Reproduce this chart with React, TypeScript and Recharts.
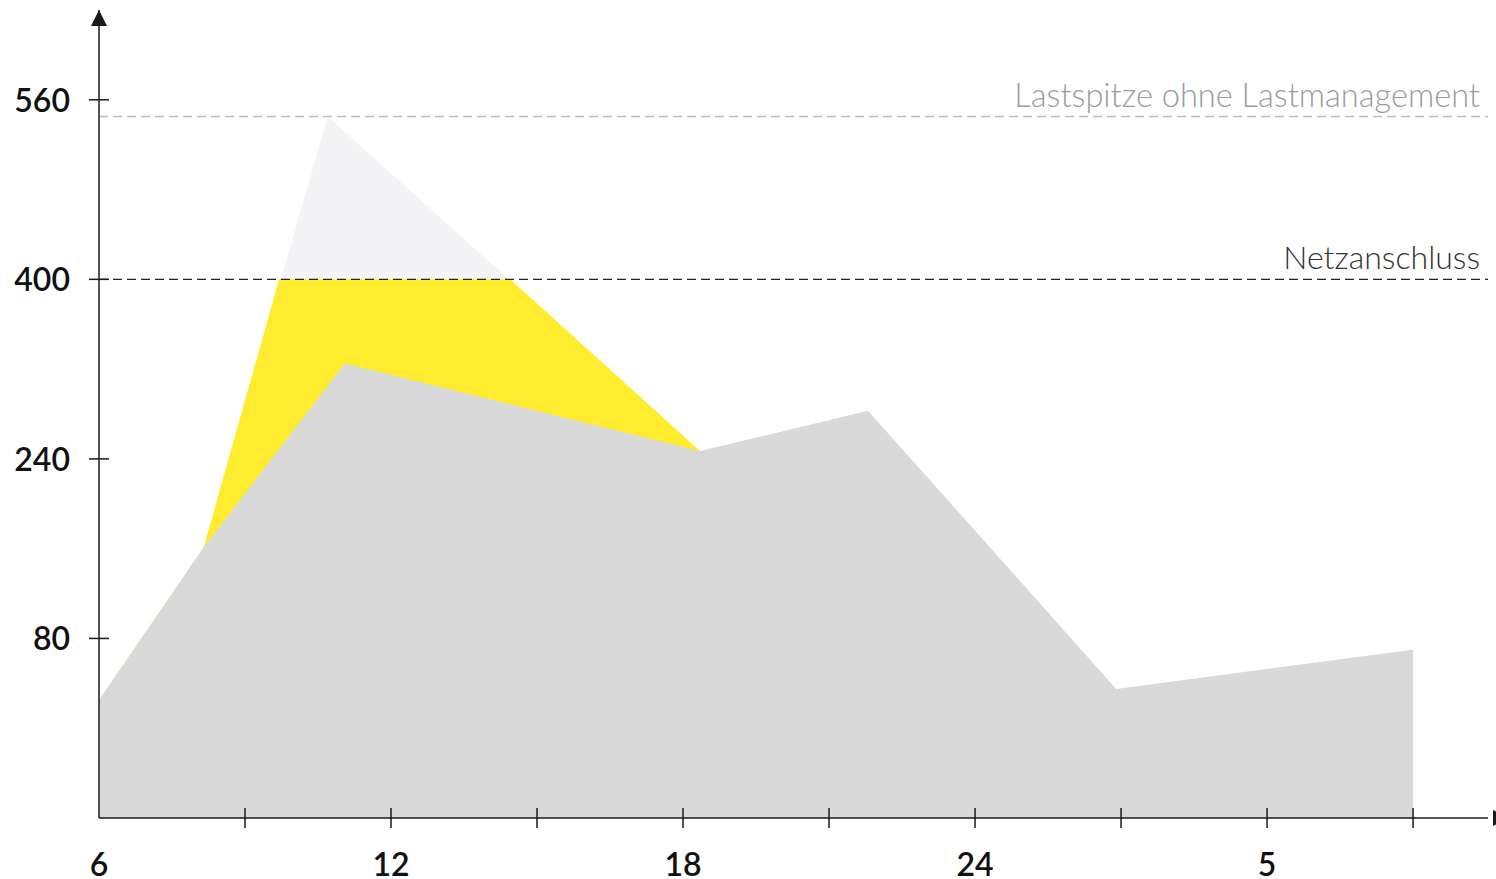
import { Area, AreaChart, ReferenceLine, XAxis, YAxis } from "recharts";

// hours of the day (6 = 06:00)
const hours = [6, 8.15, 9.7, 10.7, 11.05, 14.45, 18.35, 21.8, 26.9, 33];
const baseLoad = [25, 161, null, null, 325, null, 247, 283, 35, 70];
const peakLoad = [25, 161, null, 545, null, null, 247, null, null, null];
const managedLoad = [25, 161, 400, null, null, 400, 247, null, null, null];

const xTicks = [6, 9, 12, 15, 18, 21, 24, 27, 30, 33];
const xTickLabels = ["6", "", "12", "", "18", "", "24", "", "5", ""];
const yTicks = [80, 240, 400, 560];

const gridConnection = 400;
const peakWithoutManagement = 545;

const data = hours.map((hour, i) => ({
  hour,
  base: baseLoad[i],
  peak: peakLoad[i],
  managed: managedLoad[i],
}));

const AXIS = "#1a1a1a";
const FONT = "Lato, 'Open Sans', sans-serif";

function YTick({ x, y, payload }: any) {
  return (
    <g>
      <line x1={x - 10} x2={x + 10} y1={y} y2={y} stroke={AXIS} strokeWidth={1.5} />
      <text x={x - 29} y={y + 12} textAnchor="end" fontSize={32} fontWeight={600} fontFamily={FONT} fill="#111">
        {payload.value}
      </text>
    </g>
  );
}

function XTick({ x, y, payload }: any) {
  const idx = xTicks.indexOf(payload.value);
  return (
    <g>
      {idx > 0 && <line x1={x} x2={x} y1={y - 10} y2={y + 10} stroke={AXIS} strokeWidth={1.5} />}
      <text x={x} y={y + 58} textAnchor="middle" fontSize={32} fontWeight={600} fontFamily={FONT} fill="#111">
        {xTickLabels[idx]}
      </text>
    </g>
  );
}

function lineLabel(text: string, color: string, size: number) {
  return ({ viewBox }: any) => (
    <text
      x={viewBox.x + viewBox.width - 8}
      y={viewBox.y - 10}
      textAnchor="end"
      fontSize={size}
      fontWeight={300}
      fontFamily={FONT}
      fill={color}
    >
      {text}
    </text>
  );
}

export default function App() {
  return (
    <div style={{ position: "absolute", left: 0, top: 0, background: "#fff" }}>
      <AreaChart width={1496} height={879} data={data} margin={{ top: 10, right: 8, left: 0, bottom: 0 }}>
        <defs>
          <marker id="arrowY" viewBox="0 0 16 16" refX={16} refY={8} markerWidth={16} markerHeight={16} markerUnits="userSpaceOnUse" orient="auto-start-reverse">
            <path d="M0,0 L16,8 L0,16 z" fill={AXIS} />
          </marker>
          <marker id="arrowX" viewBox="0 0 16 16" refX={-5} refY={8} markerWidth={16} markerHeight={16} markerUnits="userSpaceOnUse" orient="auto">
            <path d="M0,0 L16,8 L0,16 z" fill={AXIS} />
          </marker>
        </defs>
        <XAxis
          dataKey="hour"
          type="number"
          domain={[6, 34.54]}
          ticks={xTicks}
          interval={0}
          height={61}
          tickSize={0}
          tickMargin={0}
          tickLine={false}
          tick={<XTick />}
          axisLine={{ stroke: AXIS, strokeWidth: 1.5, markerEnd: "url(#arrowX)" }}
          allowDataOverflow
        />
        <YAxis
          type="number"
          domain={[-80, 640]}
          ticks={yTicks}
          interval={0}
          width={99}
          tickSize={0}
          tickMargin={0}
          tickLine={false}
          tick={<YTick />}
          axisLine={{ stroke: AXIS, strokeWidth: 1.5, markerStart: "url(#arrowY)" }}
          allowDataOverflow
        />
        <Area
          dataKey="peak"
          type="linear"
          connectNulls
          baseValue={-80}
          stroke="none"
          fill="#f4f4f6"
          fillOpacity={1}
          isAnimationActive={false}
        />
        <Area
          dataKey="managed"
          type="linear"
          connectNulls
          baseValue={-80}
          stroke="none"
          fill="#ffec2f"
          fillOpacity={1}
          isAnimationActive={false}
        />
        <Area
          dataKey="base"
          type="linear"
          connectNulls
          baseValue={-80}
          stroke="none"
          fill="#d9d9d9"
          fillOpacity={1}
          isAnimationActive={false}
        />
        <ReferenceLine
          y={peakWithoutManagement}
          stroke="#bdbdbd"
          strokeWidth={1.5}
          strokeDasharray="9 5"
          label={lineLabel("Lastspitze ohne Lastmanagement", "#9b9b9b", 32.6)}
        />
        <ReferenceLine
          y={gridConnection}
          stroke="#222"
          strokeWidth={1.2}
          strokeDasharray="9 5"
          label={lineLabel("Netzanschluss", "#333", 32)}
        />
      </AreaChart>
    </div>
  );
}
